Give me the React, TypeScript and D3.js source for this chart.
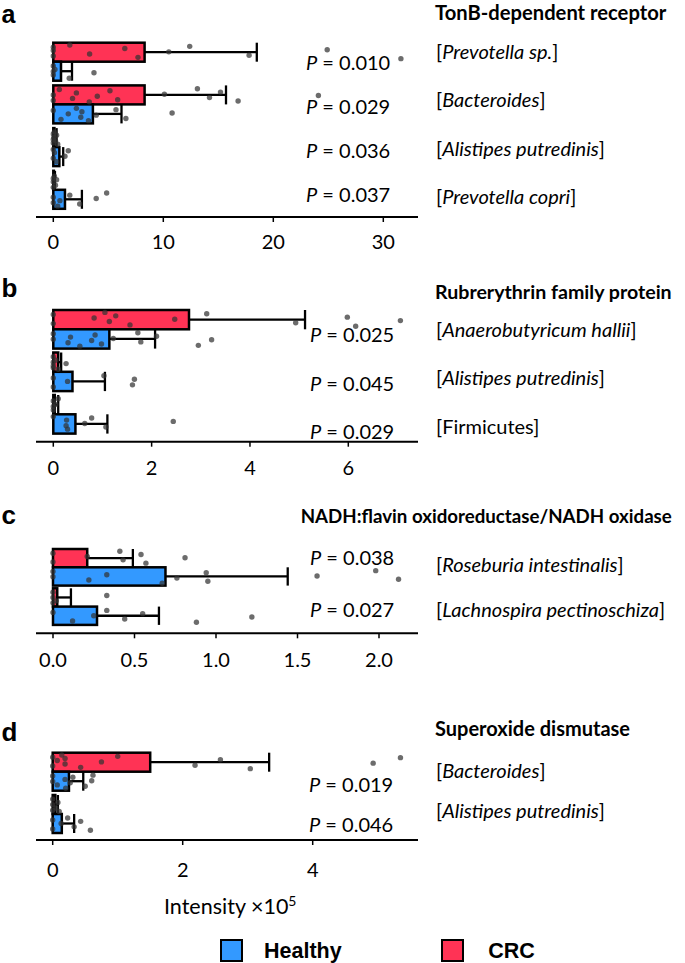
import React from "react";
import * as d3 from "d3";

// ---------- DATA ----------
const GROUPS = ["CRC", "Healthy"];

// Panel a: TonB-dependent receptor
const TITLE_A = "TonB-dependent receptor";
const CATS_A = ["Prevotella sp.", "Bacteroides", "Alistipes putredinis", "Prevotella copri"];
const ITALIC_A = [true, true, true, true];
const P_A = ["0.010", "0.029", "0.036", "0.037"];
const CRC_MEAN_A = [8.3, 8.3, 0.1, 0.05];
const CRC_ERR_A = [18.5, 15.7, 0.3, 0.15];
const H_MEAN_A = [0.7, 3.6, 0.55, 1.06];
const H_ERR_A = [1.7, 6.2, 0.9, 2.6];
const CRC_DOTS_A = [
  [0, 0, 0, 1.5, 3.3, 6.5, 7.7, 10.5, 12.4, 17.8, 24.9, 31.6],
  [0, 0, 0.55, 1.75, 2.1, 3.27, 4.0, 5.15, 5.85, 10.1, 13.1, 14.2, 15.2, 16.8, 24.1],
  [0, 0, 0, 0.05, 0.1, 0.2, 0.3, 0.4],
  [0, 0, 0, 0.1, 0.2, 0.3],
];
const H_DOTS_A = [
  [0, 0, 0, 0.15, 1.45, 3.7],
  [0, 0.7, 1.36, 2.1, 2.5, 2.6, 3.2, 3.9, 5.7, 6.6, 10.8],
  [0, 0, 0.1, 0.3, 1.06, 1.36],
  [0, 0, 0.4, 0.6, 1.5, 2.4, 3.9, 4.85],
];
const TICKS_A = [0, 10, 20, 30];

// Panel b: Rubrerythrin family protein
const TITLE_B = "Rubrerythrin family protein";
const CATS_B = ["Anaerobutyricum hallii", "Alistipes putredinis", "Firmicutes"];
const ITALIC_B = [true, true, false];
const P_B = ["0.025", "0.045", "0.029"];
const CRC_MEAN_B = [2.76, 0.1, 0.03];
const CRC_ERR_B = [5.12, 0.16, 0.1];
const H_MEAN_B = [1.14, 0.39, 0.45];
const H_ERR_B = [2.07, 1.05, 1.1];
const CRC_DOTS_B = [
  [0, 0, 0.83, 1.05, 1.14, 1.27, 1.56, 2.47, 3.12, 4.93, 5.98, 6.15, 7.06],
  [0, 0, 0, 0, 0.05, 0.1, 0.26],
  [0, 0, 0, 0.05, 0.1],
];
const H_DOTS_B = [
  [0, 0, 0.3, 0.35, 0.54, 0.78, 0.85, 0.98, 1.22, 1.72, 1.78, 2.1, 2.95, 3.22],
  [0, 0, 0.29, 1.03, 1.61, 1.65],
  [0, 0.26, 0.27, 0.29, 0.64, 0.78, 1.07, 2.44],
];
const TICKS_B = [0, 2, 4, 6];

// Panel c: NADH:flavin oxidoreductase/NADH oxidase
const TITLE_C = "NADH:flavin oxidoreductase/NADH oxidase";
const CATS_C = ["Roseburia intestinalis", "Lachnospira pectinoschiza"];
const ITALIC_C = [true, true];
const P_C = ["0.038", "0.027"];
const CRC_MEAN_C = [0.21, 0.026];
const CRC_ERR_C = [0.49, 0.11];
const H_MEAN_C = [0.69, 0.27];
const H_ERR_C = [1.44, 0.65];
const CRC_DOTS_C = [
  [0, 0, 0.21, 0.41, 0.43, 0.54, 0.57, 0.81],
  [0, 0, 0, 0.02, 0.33],
];
const H_DOTS_C = [
  [0, 0, 0.22, 0.33, 0.67, 0.76, 0.94, 0.95, 1.62, 1.98, 2.12],
  [0, 0.12, 0.25, 0.33, 0.44, 0.55, 0.88, 1.22],
];
const TICKS_C = [0, 0.5, 1.0, 1.5, 2.0];

// Panel d: Superoxide dismutase
const TITLE_D = "Superoxide dismutase";
const CATS_D = ["Bacteroides", "Alistipes putredinis"];
const ITALIC_D = [true, true];
const P_D = ["0.019", "0.046"];
const CRC_MEAN_D = [1.5, 0.04];
const CRC_ERR_D = [3.33, 0.08];
const H_MEAN_D = [0.25, 0.14];
const H_ERR_D = [0.47, 0.33];
const CRC_DOTS_D = [
  [0, 0, 0.07, 0.14, 0.19, 0.19, 0.43, 0.75, 1.0, 2.19, 2.58, 3.04, 4.93, 5.35],
  [0, 0, 0, 0.05, 0.08, 0.1],
];
const H_DOTS_D = [
  [0, 0, 0.07, 0.19, 0.2, 0.27, 0.31, 0.5, 0.6, 0.62],
  [0, 0, 0.13, 0.23, 0.33, 0.43, 0.58],
];
const TICKS_D = [0, 2, 4];

const LEGEND = ["Healthy", "CRC"];
const X_LABEL = "Intensity \u00d710";

// ---------- STYLE / LAYOUT ----------
const COLORS: Record<string, string> = { CRC: "#FF3355", Healthy: "#3399FF" };
const LATO = "Lato, 'Open Sans', sans-serif";
const ARIAL = "'Liberation Sans', Arial, sans-serif";

const PANELS = [
  {
    letter: "a", title: TITLE_A, cats: CATS_A, italic: ITALIC_A, p: P_A,
    crcMean: CRC_MEAN_A, crcErr: CRC_ERR_A, hMean: H_MEAN_A, hErr: H_ERR_A,
    crcDots: CRC_DOTS_A, hDots: H_DOTS_A, ticks: TICKS_A, fmt: (v: number) => String(v),
    L: { letterY: 23, letterSize: 25, titleX: 435, titleY: 20, titleSize: 20.2, barTop: 42.7, step: 42.7, barH: 19, axisY: 217,
      x0: 53.3, x1: 383.3, spY: 59, spStep: 48.3, pX: 306, pY: 70, pStep: 44, tickY: 32 },
  },
  {
    letter: "b", title: TITLE_B, cats: CATS_B, italic: ITALIC_B, p: P_B,
    crcMean: CRC_MEAN_B, crcErr: CRC_ERR_B, hMean: H_MEAN_B, hErr: H_ERR_B,
    crcDots: CRC_DOTS_B, hDots: H_DOTS_B, ticks: TICKS_B, fmt: (v: number) => String(v),
    L: { letterY: 297, letterSize: 26, titleX: 435, titleY: 299, titleSize: 19.6, barTop: 310, step: 42.5, barH: 19.3, axisY: 441.7,
      x0: 53.3, x1: 348.3, spY: 336.5, spStep: 48.5, pX: 310, pY: 342, pStep: 48.5, tickY: 33 },
  },
  {
    letter: "c", title: TITLE_C, cats: CATS_C, italic: ITALIC_C, p: P_C,
    crcMean: CRC_MEAN_C, crcErr: CRC_ERR_C, hMean: H_MEAN_C, hErr: H_ERR_C,
    crcDots: CRC_DOTS_C, hDots: H_DOTS_C, ticks: TICKS_C, fmt: d3.format(".1f"),
    L: { letterY: 524, letterSize: 26, titleX: 300.7, titleY: 523, titleSize: 18.7, barTop: 549, step: 39.3, barH: 18.3, axisY: 633.3,
      x0: 53, x1: 379, spY: 571.5, spStep: 45, pX: 310, pY: 565, pStep: 52, tickY: 34 },
  },
  {
    letter: "d", title: TITLE_D, cats: CATS_D, italic: ITALIC_D, p: P_D,
    crcMean: CRC_MEAN_D, crcErr: CRC_ERR_D, hMean: H_MEAN_D, hErr: H_ERR_D,
    crcDots: CRC_DOTS_D, hDots: H_DOTS_D, ticks: TICKS_D, fmt: (v: number) => String(v),
    L: { letterY: 741, letterSize: 26, titleX: 435, titleY: 736, titleSize: 20, barTop: 752.7, step: 42.3, barH: 19, axisY: 840,
      x0: 52.7, x1: 312.7, spY: 778, spStep: 40, pX: 309, pY: 792, pStep: 40, tickY: 36.5 },
  },
];

const GOLD = 0.6180339887;
const jitter = (i: number, g: number) => ((i * GOLD + g * 0.37 + 0.15) % 1);

function Panel({ cfg }: { cfg: (typeof PANELS)[number] }) {
  const L = cfg.L;
  const maxTick = cfg.ticks[cfg.ticks.length - 1];
  const x = d3.scaleLinear().domain([0, maxTick]).range([L.x0, L.x1]);
  const band = d3.scaleBand<string>().domain(cfg.cats)
    .range([L.barTop, L.barTop + cfg.cats.length * L.step]).paddingInner(0).paddingOuter(0);
  const sub = d3.scaleBand<string>().domain(GROUPS).range([0, 2 * L.barH]);

  const series = [
    { g: "CRC", mean: cfg.crcMean, err: cfg.crcErr, dots: cfg.crcDots },
    { g: "Healthy", mean: cfg.hMean, err: cfg.hErr, dots: cfg.hDots },
  ];

  return (
    <g>
      <text x={1.5} y={L.letterY} fontFamily={ARIAL} fontWeight="bold" fontSize={L.letterSize}>{cfg.letter}</text>
      <text x={L.titleX} y={L.titleY} fontFamily={LATO} fontWeight="bold" fontSize={L.titleSize}>{cfg.title}</text>
      {/* bars */}
      {series.map((s) =>
        cfg.cats.map((c, i) => {
          const y = (band(c) as number) + (sub(s.g) as number);
          return (
            <rect key={s.g + c} x={x(0)} y={y} width={x(s.mean[i]) - x(0)} height={sub.bandwidth()}
              fill={COLORS[s.g]} stroke="#000" strokeWidth={2.5} />
          );
        })
      )}
      {/* error bars */}
      {series.map((s) =>
        cfg.cats.map((c, i) => {
          const y = (band(c) as number) + (sub(s.g) as number);
          const h = sub.bandwidth();
          return (
            <g key={"e" + s.g + c} stroke="#000" strokeWidth={2.3}>
              <line x1={x(s.mean[i])} x2={x(s.err[i])} y1={y + h / 2} y2={y + h / 2} />
              <line x1={x(s.err[i])} x2={x(s.err[i])} y1={y} y2={y + h} />
            </g>
          );
        })
      )}
      {/* dots */}
      {series.map((s, si) =>
        cfg.cats.map((c, i) => {
          const y = (band(c) as number) + (sub(s.g) as number);
          const h = sub.bandwidth();
          return s.dots[i].map((v, k) => (
            <circle key={"d" + s.g + c + k} cx={x(v)} cy={y + h * (0.12 + 0.76 * jitter(k, i * 2 + si))}
              r={2.7} fill="#333" fillOpacity={0.72} />
          ));
        })
      )}
      {/* axis */}
      <line x1={36} x2={418} y1={L.axisY} y2={L.axisY} stroke="#000" strokeWidth={2} />
      {cfg.ticks.map((t) => (
        <g key={"t" + t}>
          <line x1={x(t)} x2={x(t)} y1={L.axisY} y2={L.axisY + 5} stroke="#000" strokeWidth={1.5} />
          <text x={x(t)} y={L.axisY + L.tickY} textAnchor="middle" fontFamily={LATO} fontSize={20}>
            {cfg.fmt(t)}
          </text>
        </g>
      ))}
      {/* P labels */}
      {cfg.p.map((p, i) => (
        <text key={"p" + i} x={L.pX} y={L.pY + i * L.pStep} fontFamily={LATO} fontSize={20}>
          <tspan fontStyle="italic">P</tspan> = {p}
        </text>
      ))}
      {/* species labels */}
      {cfg.cats.map((c, i) => (
        <text key={"s" + i} x={436} y={L.spY + i * L.spStep} fontFamily={LATO} fontSize={20}>
          [<tspan fontStyle={cfg.italic[i] ? "italic" : "normal"}>{c}</tspan>]
        </text>
      ))}
    </g>
  );
}

export default function App() {
  return (
    <svg width={685} height={963} style={{ position: "absolute", left: 0, top: 0, background: "#fff" }}>
      {PANELS.map((p) => (
        <Panel key={p.letter} cfg={p} />
      ))}
      <text x={164} y={914} fontFamily={LATO} fontSize={21.5}>
        {X_LABEL}
        <tspan dy={-8} fontSize={14}>5</tspan>
      </text>
      {LEGEND.map((g, i) => (
        <g key={g}>
          <rect x={221 + i * 221} y={940} width={21} height={21} fill={COLORS[g]} stroke="#000" strokeWidth={2} />
          <text x={264 + i * 224.3} y={957.5} fontFamily={ARIAL} fontWeight="bold" fontSize={21.5}>{g}</text>
        </g>
      ))}
    </svg>
  );
}
